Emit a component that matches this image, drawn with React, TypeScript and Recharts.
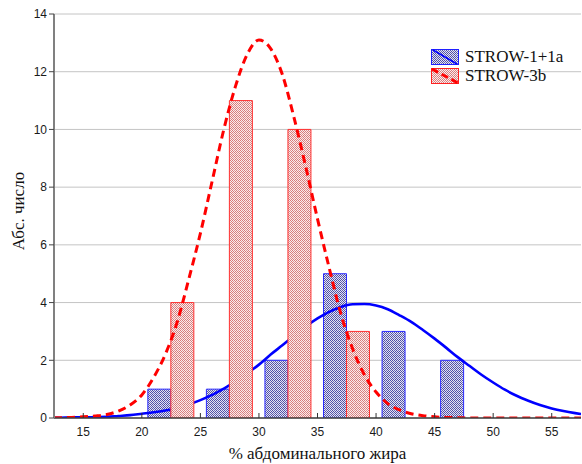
import React from 'react';
import { ComposedChart, Bar, Line, XAxis, YAxis, CartesianGrid } from 'recharts';

const binCenters = [22.5, 27.5, 32.5, 37.5, 42.5, 47.5];
const blueCounts = [1, 1, 2, 5, 3, 2];
const redCounts: (number | null)[] = [4, 11, 10, 3, null, null];

const curveX = [12.5, 13, 14, 15, 16, 17, 18, 19, 20, 21, 22, 23, 24, 25, 26, 27, 28, 29, 30, 31, 32, 33, 34, 35, 36, 37, 38, 39, 40, 41, 42, 43, 44, 45, 46, 47, 48, 49, 50, 51, 52, 53, 54, 55, 56, 57, 57.5];
const redCurveY = [0.005, 0.01, 0.02, 0.04, 0.07, 0.12, 0.24, 0.45, 0.8, 1.4, 2.2, 3.3, 4.8, 6.4, 8.2, 10.0, 11.5, 12.6, 13.1, 12.8, 11.9, 10.4, 8.7, 6.9, 5.2, 3.6, 2.4, 1.5, 0.9, 0.5, 0.28, 0.15, 0.08, 0.04, 0.02, 0.01, 0, 0, 0, 0, 0, 0, 0, 0, 0, 0, 0];
const blueCurveY = [0.01, 0.01, 0.02, 0.02, 0.03, 0.04, 0.07, 0.1, 0.15, 0.2, 0.26, 0.35, 0.47, 0.62, 0.8, 1.02, 1.26, 1.55, 1.85, 2.2, 2.52, 2.85, 3.17, 3.45, 3.68, 3.85, 3.94, 3.95, 3.9, 3.77, 3.56, 3.33, 3.05, 2.75, 2.43, 2.1, 1.8, 1.5, 1.23, 0.98, 0.77, 0.6, 0.45, 0.33, 0.24, 0.17, 0.14];

const xTicks = [15, 20, 25, 30, 35, 40, 45, 50, 55];
const yTicks = [0, 2, 4, 6, 8, 10, 12, 14];

const seriesNames = ['STROW-1+1a', 'STROW-3b'];
const xTitle = '% абдоминального жира';
const yTitle = 'Абс. число';

const barData = binCenters.map((x, i) => ({ x, blue: blueCounts[i], red: redCounts[i] }));
const redCurve = curveX.map((x, i) => ({ x, y: redCurveY[i] }));
const blueCurve = curveX.map((x, i) => ({ x, y: blueCurveY[i] }));

const SANS = '"Liberation Sans", Arial, sans-serif';
const SERIF = '"Liberation Serif", "Times New Roman", serif';

const BottomTick = (props: any) => {
  const { x, y, payload } = props;
  return (
    <g>
      <line x1={x} x2={x} y1={y} y2={y - 5} stroke="#333" strokeWidth={1} />
      <text x={x} y={y + 18} textAnchor="middle" fontFamily={SANS} fontSize={12} fill="#1a1a1a">
        {payload.value}
      </text>
    </g>
  );
};

const TopTick = (props: any) => {
  const { x, y } = props;
  return <line x1={x} x2={x} y1={y} y2={y + 5} stroke="#333" strokeWidth={1} />;
};

const Patterns = ({ suffix }: { suffix: string }) => (
  <defs>
    <pattern id={`pb${suffix}`} width="4" height="4" patternUnits="userSpaceOnUse">
      <rect width="4" height="4" fill="#e4e4f2" />
      <rect x="0" y="0" width="1" height="1" fill="#4e4ea6" />
      <rect x="2" y="0" width="1" height="1" fill="#4e4ea6" />
      <rect x="1" y="1" width="1" height="1" fill="#6a6ab6" />
      <rect x="3" y="1" width="1" height="1" fill="#4e4ea6" />
      <rect x="0" y="2" width="1" height="1" fill="#4e4ea6" />
      <rect x="2" y="2" width="1" height="1" fill="#6a6ab6" />
      <rect x="3" y="3" width="1" height="1" fill="#4e4ea6" />
      <rect x="1" y="3" width="1" height="1" fill="#4e4ea6" />
    </pattern>
    <pattern id={`pr${suffix}`} width="4" height="4" patternUnits="userSpaceOnUse">
      <rect width="4" height="4" fill="#fbecec" />
      <rect x="0" y="0" width="1" height="1" fill="#d67c7c" />
      <rect x="2" y="0" width="1" height="1" fill="#d67c7c" />
      <rect x="1" y="1" width="1" height="1" fill="#e09494" />
      <rect x="3" y="1" width="1" height="1" fill="#d67c7c" />
      <rect x="0" y="2" width="1" height="1" fill="#d67c7c" />
      <rect x="2" y="2" width="1" height="1" fill="#e09494" />
      <rect x="3" y="3" width="1" height="1" fill="#d67c7c" />
      <rect x="1" y="3" width="1" height="1" fill="#d67c7c" />
    </pattern>
  </defs>
);

const LegendBox = () => (
  <div style={{ position: 'absolute', left: 431, top: 47, fontFamily: SERIF, fontSize: 17, color: '#111' }}>
    {seriesNames.map((name, i) => (
      <div key={name} style={{ display: 'flex', alignItems: 'center', height: 19, whiteSpace: 'nowrap' }}>
        <svg width={28} height={16} style={{ display: 'block', marginRight: 6 }}>
          <Patterns suffix={`L${i}`} />
          <rect x={0.5} y={0.5} width={27} height={15} fill={`url(#${i === 0 ? 'pb' : 'pr'}L${i})`} stroke={i === 0 ? '#2020ff' : '#ff2020'} strokeWidth={1} />
          {i === 0 ? (
            <line x1={2} y1={1} x2={26} y2={15} stroke="#0000ff" strokeWidth={1.5} />
          ) : (
            <line x1={1} y1={1} x2={27} y2={15} stroke="#ff0000" strokeWidth={3} strokeDasharray="7 4" />
          )}
        </svg>
        <span>{name}</span>
      </div>
    ))}
  </div>
);

export default function App() {
  return (
    <div style={{ position: 'absolute', left: 0, top: 0, width: 582, height: 464, background: '#fff' }}>
      <ComposedChart width={582} height={464} data={barData} margin={{ top: 14, right: 1, bottom: 0, left: 0 }} barGap={0}>
        <Patterns suffix="" />
        <CartesianGrid xAxisId="x" vertical={false} stroke="#c4c4c4" strokeWidth={1} />
        <XAxis
          xAxisId="x"
          dataKey="x"
          type="number"
          domain={[12.5, 57.5]}
          allowDataOverflow
          ticks={xTicks}
          interval={0}
          height={46}
          tickSize={0}
          tickMargin={0}
          tick={<BottomTick />}
          axisLine={{ stroke: '#404040', strokeWidth: 1.5 }}
          label={{ value: xTitle, position: 'insideBottom', offset: 5, fontFamily: SERIF, fontSize: 17, fill: '#111', style: { fontFamily: SERIF, fontSize: 17 } }}
        />
        <XAxis
          xAxisId="top"
          orientation="top"
          dataKey="x"
          type="number"
          domain={[12.5, 57.5]}
          allowDataOverflow
          ticks={xTicks}
          interval={0}
          height={0}
          tickSize={0}
          tickMargin={0}
          tick={<TopTick />}
          axisLine={{ stroke: '#808080', strokeWidth: 2 }}
        />
        <XAxis xAxisId="c" orientation="top" height={0} dataKey="x" type="number" domain={[12.5, 57.5]} allowDataOverflow hide />
        <YAxis
          width={54}
          domain={[0, 14]}
          ticks={yTicks}
          interval={0}
          allowDataOverflow
          tickSize={5}
          tickMargin={2}
          tick={{ fill: '#1a1a1a', fontSize: 12, fontFamily: SANS }}
          tickLine={{ stroke: '#444' }}
          axisLine={{ stroke: '#808080', strokeWidth: 2 }}
          label={{ value: yTitle, angle: -90, position: 'insideLeft', offset: 18, dy: -5, fontFamily: SERIF, fontSize: 17, fill: '#111', style: { textAnchor: 'middle', fontFamily: SERIF, fontSize: 17 } }}
        />
        <Bar xAxisId="x" dataKey="blue" barSize={23} fill="url(#pb)" stroke="#2a2aff" strokeWidth={1} isAnimationActive={false} zIndex={300} />
        <Line xAxisId="c" data={blueCurve} dataKey="y" type="monotone" stroke="#0000ff" strokeWidth={2.6} dot={false} activeDot={false} isAnimationActive={false} zIndex={310} />
        <Bar xAxisId="x" dataKey="red" barSize={23} fill="url(#pr)" stroke="#ff3030" strokeWidth={1} isAnimationActive={false} zIndex={320} />
        <Line xAxisId="c" data={redCurve} dataKey="y" type="monotone" stroke="#ff0000" strokeWidth={3} strokeDasharray="8 5" dot={false} activeDot={false} isAnimationActive={false} zIndex={400} />
      </ComposedChart>
      <LegendBox />
    </div>
  );
}
